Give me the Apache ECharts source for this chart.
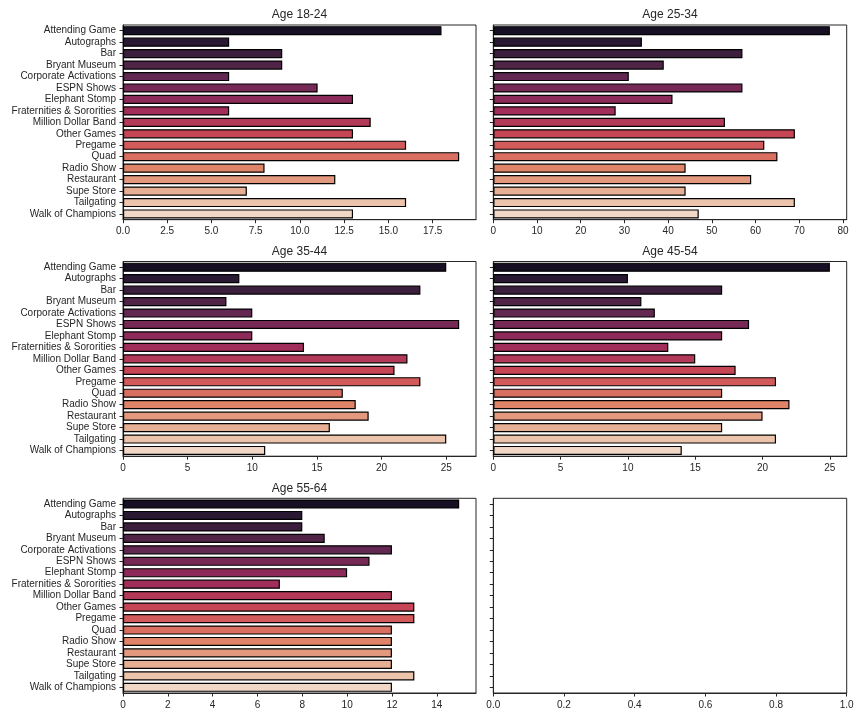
<!DOCTYPE html>
<html>
<head>
<meta charset="utf-8">
<script src="https://cdn.jsdelivr.net/npm/echarts@6/dist/echarts.min.js"></script>
<style>
html,body{margin:0;padding:0;background:#ffffff;}
#chart{width:864px;height:720px;}
</style>
</head>
<body>
<div id="chart"></div>
<script>
// ---------------- DATA ----------------
const categories = [
  'Attending Game', 'Autographs', 'Bar', 'Bryant Museum', 'Corporate Activations',
  'ESPN Shows', 'Elephant Stomp', 'Fraternities & Sororities', 'Million Dollar Band',
  'Other Games', 'Pregame', 'Quad', 'Radio Show', 'Restaurant', 'Supe Store',
  'Tailgating', 'Walk of Champions'
];
const titles = ['Age 18-24', 'Age 25-34', 'Age 35-44', 'Age 45-54', 'Age 55-64'];

const age1824 = [18, 6, 9, 9, 6, 11, 13, 6, 14, 13, 16, 19, 8, 12, 7, 16, 13];
const age2534 = [77, 34, 57, 39, 31, 57, 41, 28, 53, 69, 62, 65, 44, 59, 44, 69, 47];
const age3544 = [25, 9, 23, 8, 10, 26, 10, 14, 22, 21, 23, 17, 18, 19, 16, 25, 11];
const age4554 = [25, 10, 17, 11, 12, 19, 17, 13, 15, 18, 21, 17, 22, 20, 17, 21, 14];
const age5564 = [15, 8, 8, 9, 12, 11, 10, 7, 12, 13, 13, 12, 12, 12, 12, 13, 12];

const ticks1824 = [0, 2.5, 5, 7.5, 10, 12.5, 15, 17.5];
const tickLabels1824 = ['0.0', '2.5', '5.0', '7.5', '10.0', '12.5', '15.0', '17.5'];
const ticks2534 = [0, 10, 20, 30, 40, 50, 60, 70, 80];
const tickLabels2534 = ['0', '10', '20', '30', '40', '50', '60', '70', '80'];
const ticks3544 = [0, 5, 10, 15, 20, 25];
const tickLabels3544 = ['0', '5', '10', '15', '20', '25'];
const ticks4554 = [0, 5, 10, 15, 20, 25];
const tickLabels4554 = ['0', '5', '10', '15', '20', '25'];
const ticks5564 = [0, 2, 4, 6, 8, 10, 12, 14];
const tickLabels5564 = ['0', '2', '4', '6', '8', '10', '12', '14'];
const ticksEmpty = [0, 0.2, 0.4, 0.6, 0.8, 1.0];
const tickLabelsEmpty = ['0.0', '0.2', '0.4', '0.6', '0.8', '1.0'];

// ---------------- STYLE ----------------
const FONT = "'Liberation Sans', Arial, 'DejaVu Sans', sans-serif";
const INK = '#262626';
// rocket colormap anchors
const rocketAnchors = ['#03051a', '#35193e', '#701f57', '#ad1759', '#e13342', '#f37651', '#f6b48f', '#faebdd'];

function hexToRgb(h) {
  return [parseInt(h.slice(1, 3), 16), parseInt(h.slice(3, 5), 16), parseInt(h.slice(5, 7), 16)];
}
function rocketAt(p) {
  const n = rocketAnchors.length - 1;
  const x = p * n;
  const i = Math.min(Math.floor(x), n - 1);
  const t = x - i;
  const a = hexToRgb(rocketAnchors[i]), b = hexToRgb(rocketAnchors[i + 1]);
  return [0, 1, 2].map(k => (a[k] + (b[k] - a[k]) * t) / 255);
}
function rgb2hls(r, g, b) {
  const mx = Math.max(r, g, b), mn = Math.min(r, g, b);
  const l = (mx + mn) / 2;
  if (mx === mn) return [0, l, 0];
  const s = l <= 0.5 ? (mx - mn) / (mx + mn) : (mx - mn) / (2 - mx - mn);
  const rc = (mx - r) / (mx - mn), gc = (mx - g) / (mx - mn), bc = (mx - b) / (mx - mn);
  let h;
  if (r === mx) h = bc - gc; else if (g === mx) h = 2 + rc - bc; else h = 4 + gc - rc;
  h = ((h / 6) % 1 + 1) % 1;
  return [h, l, s];
}
function hv(m1, m2, hue) {
  hue = ((hue % 1) + 1) % 1;
  if (hue < 1 / 6) return m1 + (m2 - m1) * hue * 6;
  if (hue < 0.5) return m2;
  if (hue < 2 / 3) return m1 + (m2 - m1) * (2 / 3 - hue) * 6;
  return m1;
}
function hls2rgb(h, l, s) {
  if (s === 0) return [l, l, l];
  const m2 = l <= 0.5 ? l * (1 + s) : l + s - l * s;
  const m1 = 2 * l - m2;
  return [hv(m1, m2, h + 1 / 3), hv(m1, m2, h), hv(m1, m2, h - 1 / 3)];
}
function toHex(rgb) {
  return '#' + rgb.map(c => Math.round(Math.max(0, Math.min(1, c)) * 255).toString(16).padStart(2, '0')).join('');
}
const nCat = categories.length;
const palette = [];
for (let i = 0; i < nCat; i++) {
  const c = rocketAt((i + 1) / (nCat + 1));
  const hls = rgb2hls(c[0], c[1], c[2]);
  palette.push(toHex(hls2rgb(hls[0], hls[1], hls[2] * 0.75)));
}

// ---------------- LAYOUT ----------------
const colLeft = [123, 493.3];
const colWidth = [353, 353.4];
const rowTop = [25, 261.5, 498.3];
const rowHeight = 194.7;

const panels = [
  { title: titles[0], values: age1824, ticks: ticks1824, labels: tickLabels1824, row: 0, col: 0 },
  { title: titles[1], values: age2534, ticks: ticks2534, labels: tickLabels2534, row: 0, col: 1 },
  { title: titles[2], values: age3544, ticks: ticks3544, labels: tickLabels3544, row: 1, col: 0 },
  { title: titles[3], values: age4554, ticks: ticks4554, labels: tickLabels4554, row: 1, col: 1 },
  { title: titles[4], values: age5564, ticks: ticks5564, labels: tickLabels5564, row: 2, col: 0 },
  { title: null, values: null, ticks: ticksEmpty, labels: tickLabelsEmpty, row: 2, col: 1 }
];

const grid = [], xAxis = [], yAxis = [], series = [], title = [];
panels.forEach((p, idx) => {
  const left = colLeft[p.col], top = rowTop[p.row], width = colWidth[p.col];
  grid.push({
    left: left, top: top, width: width, height: rowHeight,
    show: true, borderColor: INK, borderWidth: 1, backgroundColor: 'transparent',
    containLabel: false, outerBoundsMode: 'none'
  });
  const maxV = p.values ? Math.max.apply(null, p.values) * 1.05 : 1;
  const tk = p.ticks, lb = p.labels;
  xAxis.push({
    type: 'value', gridIndex: idx, min: 0, max: maxV,
    axisLine: { show: true, onZero: false, lineStyle: { color: INK, width: 1 } },
    axisTick: { show: true, length: 3.5, customValues: tk, lineStyle: { color: INK, width: 1 } },
    axisLabel: {
      show: true, customValues: tk, margin: 7,
      color: INK, fontFamily: FONT, fontSize: 10,
      formatter: function (val) {
        const i = tk.findIndex(t => Math.abs(t - val) < 1e-9);
        return i >= 0 ? lb[i] : '';
      }
    },
    splitLine: { show: false }
  });
  yAxis.push({
    type: 'category', gridIndex: idx, data: categories, inverse: true,
    axisLine: { show: true, onZero: false, lineStyle: { color: INK, width: 1 } },
    axisTick: { show: true, alignWithLabel: true, interval: 0, length: 3.5, lineStyle: { color: INK, width: 1 } },
    axisLabel: { show: p.col === 0, interval: 0, margin: 7, color: INK, fontFamily: FONT, fontSize: 10 },
    splitLine: { show: false }
  });
  if (p.title) {
    title.push({
      text: p.title, left: left + width / 2, top: top - 10, padding: 0,
      textAlign: 'center', textVerticalAlign: 'middle',
      textStyle: { color: INK, fontFamily: FONT, fontSize: 12, fontWeight: 'normal' }
    });
  }
  if (p.values) {
    series.push({
      type: 'bar', name: p.title, xAxisIndex: idx, yAxisIndex: idx,
      data: p.values, barCategoryGap: '20%',
      itemStyle: {
        color: function (params) { return palette[params.dataIndex]; },
        borderColor: '#000000', borderWidth: 1.2
      },
      emphasis: { disabled: true }
    });
  }
});

const chart = echarts.init(document.getElementById('chart'), null, { renderer: 'canvas' });
chart.setOption({
  animation: false,
  backgroundColor: '#ffffff',
  title: title,
  grid: grid,
  xAxis: xAxis,
  yAxis: yAxis,
  series: series
});
</script>
</body>
</html>
